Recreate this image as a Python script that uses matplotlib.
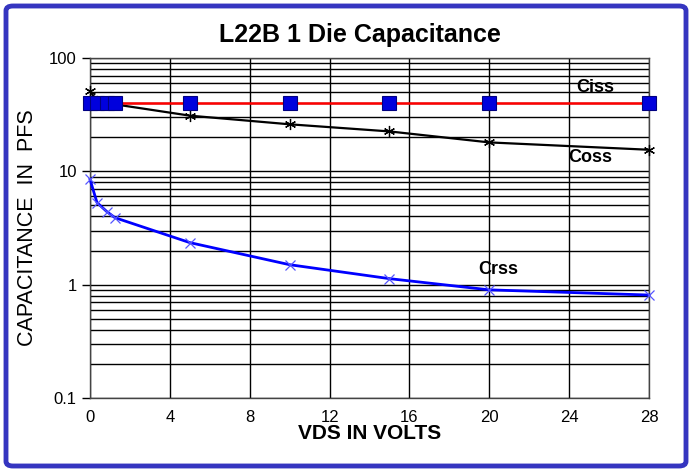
import matplotlib.pyplot as plt
from matplotlib.patches import FancyBboxPatch
from matplotlib.ticker import LogLocator, FixedLocator, NullFormatter

plt.rcParams['font.family'] = ['Liberation Sans', 'DejaVu Sans']

# ---------- Data ---------- #
ciss_v = [0, 0.35, 0.85, 1.25, 5, 10, 15, 20, 28]
ciss = [40, 40, 40, 40, 40, 40, 40, 40, 40]

coss_v = [0, 0.35, 0.85, 1.25, 5, 10, 15, 20, 28]
coss = [51, 42, 40, 39, 31, 26, 22.5, 18, 15.5]

crss_v = [0, 0.35, 0.85, 1.25, 5, 10, 15, 20, 28]
crss = [8.5, 5.3, 4.4, 3.9, 2.35, 1.5, 1.13, 0.9, 0.81]

x_ticks = [0, 4, 8, 12, 16, 20, 24, 28]
y_ticks = [0.1, 1, 10, 100]
y_tick_labels = ['0.1', '1', '10', '100']

W, H = 693, 470

# ---------- Figure ---------- #
fig = plt.figure(figsize=(W / 100, H / 100), dpi=100)
ax = fig.add_axes([90 / W, 72 / H, 559 / W, 340 / H])

ax.plot(coss_v, coss, color='black', lw=1.6, marker=(6, 2, 0), ms=8,
        mew=0.9, zorder=3, clip_on=False)
ax.plot(crss_v, crss, color='#0000ff', lw=2.0, marker='x', ms=7,
        mew=0.9, mec='#5555ff', zorder=3, clip_on=False)
ax.plot(ciss_v, ciss, color='#ff0000', lw=1.8, marker='s', ms=10.5,
        mfc='#0000dd', mec='#000080', mew=0.8, zorder=4, clip_on=False)

ax.set_yscale('log')
ax.set_xlim(0, 28)
ax.set_ylim(0.1, 100)

ax.xaxis.set_major_locator(FixedLocator(x_ticks))
ax.set_xticklabels([str(t) for t in x_ticks], fontsize=12)
ax.yaxis.set_major_locator(FixedLocator(y_ticks))
ax.set_yticklabels(y_tick_labels, fontsize=12)
ax.yaxis.set_minor_locator(LogLocator(base=10, subs=range(2, 10)))
ax.yaxis.set_minor_formatter(NullFormatter())

ax.grid(True, which='major', axis='both', color='black', lw=1.0)
ax.grid(True, which='minor', axis='y', color='black', lw=1.0)
ax.tick_params(axis='x', length=0, pad=9)
ax.tick_params(axis='y', which='major', length=6, width=1.0, direction='out')
ax.tick_params(axis='y', which='minor', length=0)
for sp in ax.spines.values():
    sp.set_color('#444444')
    sp.set_linewidth(1.0)

ax.set_xlabel('VDS IN VOLTS', fontsize=15, fontweight='bold', labelpad=-1)
ax.set_ylabel('CAPACITANCE  IN  PFS', fontsize=15.5, labelpad=8)

# curve names, placed in pixel coords (top-left origin)
for name, px, py in [('Ciss', 595, 87), ('Coss', 590, 158), ('Crss', 498, 270)]:
    fig.text(px / W, 1 - py / H, name, fontsize=13, fontweight='bold',
             ha='center', va='center')

fig.text(360 / W, 1 - 35 / H, 'L22B 1 Die Capacitance', fontsize=18,
         fontweight='bold', ha='center', va='center')

# ---------- Blue frame ---------- #
frame = FancyBboxPatch((6 / W, 4 / H), 680 / W, 460 / H,
                       boxstyle='round,pad=0,rounding_size=0.01',
                       transform=fig.transFigure, fill=False,
                       edgecolor='#3535c0', lw=3.5)
fig.patches.append(frame)

fig.savefig('out.png', dpi=100)
